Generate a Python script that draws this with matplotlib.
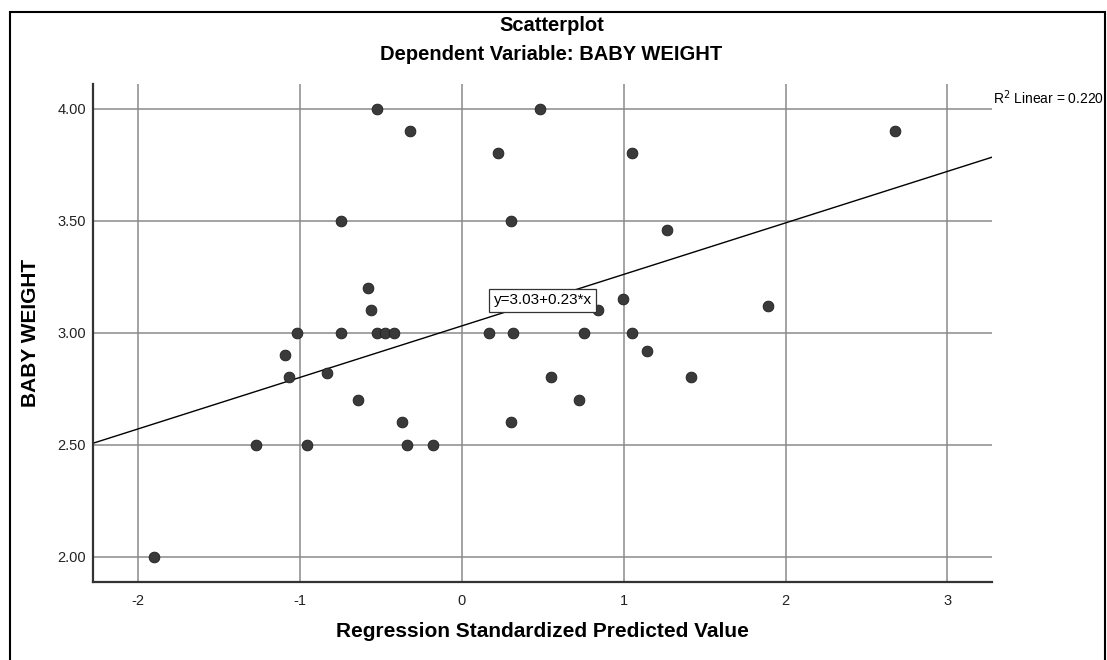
import matplotlib as mpl
mpl.use('Agg')
import matplotlib.pyplot as plt
import numpy as np
from matplotlib.patches import Rectangle

plt.rcParams['font.family'] = ['Liberation Sans', 'DejaVu Sans']
plt.rcParams['axes.unicode_minus'] = False  # SPSS uses plain hyphens on the ticks

# Standardized predicted values (x) and baby weight (y)
pred_values = [-0.525, -0.319, -0.746, -0.581, -0.562, -1.015, -0.748, -0.525, -0.472, -0.418,
               -1.090, -1.069, -0.832, -0.639, -0.367, -1.271, -0.957, -0.338, -0.179, -1.900,
               0.482, 0.222, 1.054, 0.305, 1.268, 0.998, 1.892, 0.844, 0.171, 0.317,
               0.755, 1.054, 1.146, 0.552, 1.416, 0.722, 0.305, 2.676]
baby_weight = [4.00, 3.90, 3.50, 3.20, 3.10, 3.00, 3.00, 3.00, 3.00, 3.00,
               2.90, 2.80, 2.82, 2.70, 2.60, 2.50, 2.50, 2.50, 2.50, 2.00,
               4.00, 3.80, 3.80, 3.50, 3.46, 3.15, 3.12, 3.10, 3.00, 3.00,
               3.00, 3.00, 2.92, 2.80, 2.80, 2.70, 2.60, 3.90]

# fit line reported by SPSS
intercept = 3.03
slope = 0.23
r_squared = 0.220

x_ticks = [-2, -1, 0, 1, 2, 3]
y_ticks = [2.0, 2.5, 3.0, 3.5, 4.0]

fig = plt.figure(figsize=(11.07, 6.6), dpi=100)
ax = fig.add_axes([0.0840, 0.1182, 0.8121, 0.7545])

ax.set_xlim(-2.277, 3.275)
ax.set_ylim(1.887, 4.11)
ax.set_xticks(x_ticks)
ax.set_yticks(y_ticks)
ax.set_yticklabels(['%.2f' % v for v in y_ticks])
ax.tick_params(length=0, labelsize=10.5, colors='#222222')
ax.tick_params(axis='x', pad=9)
ax.tick_params(axis='y', pad=5)

ax.grid(True, color='#8a8a8a', lw=1.1)
ax.set_axisbelow(True)
for side in ['top', 'right']:
    ax.spines[side].set_visible(False)
for side in ['left', 'bottom']:
    ax.spines[side].set_color('#333333')
    ax.spines[side].set_linewidth(1.6)

ax.scatter(pred_values, baby_weight, s=60, color='#3a3a3a', edgecolor='#1e1e1e',
           linewidth=0.6, zorder=3)

# regression line across the whole x range
line_x = np.array(ax.get_xlim())
ax.plot(line_x, intercept + slope * line_x, color='black', lw=1.0, zorder=2)

# equation label sitting on the line
ax.text(0.5, intercept + slope * 0.5, 'y=%.2f+%.2f*x' % (intercept, slope),
        ha='center', va='center', fontsize=11, zorder=5,
        bbox=dict(boxstyle='square,pad=0.3', fc='white', ec='#333333', lw=0.9))

# R² note just outside the right edge of the plot
r2_trans = mpl.transforms.blended_transform_factory(ax.transAxes, ax.transData)
ax.text(1.001, 4.05, 'R$^2$ Linear = %.3f' % r_squared, transform=r2_trans,
        ha='left', va='center', fontsize=10, clip_on=False)

ax.set_xlabel('Regression Standardized Predicted Value', fontsize=15, fontweight='bold')
ax.set_ylabel('BABY WEIGHT', fontsize=15, fontweight='bold')
ax.xaxis.set_label_coords(0.5, -0.080)
ax.yaxis.set_label_coords(-0.059, 0.5)

fig.text(0.498, 0.961, 'Scatterplot', ha='center', va='center', fontsize=14.5, fontweight='bold')
fig.text(0.498, 0.917, 'Dependent Variable: BABY WEIGHT', ha='center', va='center',
         fontsize=14.5, fontweight='bold')

# outer frame like the SPSS output viewer
fig.patches.append(Rectangle((0.009, -0.1), 0.989, 1.0818, transform=fig.transFigure,
                             fill=False, ec='black', lw=1.5, clip_on=False))

fig.savefig('out.png', dpi=100)
